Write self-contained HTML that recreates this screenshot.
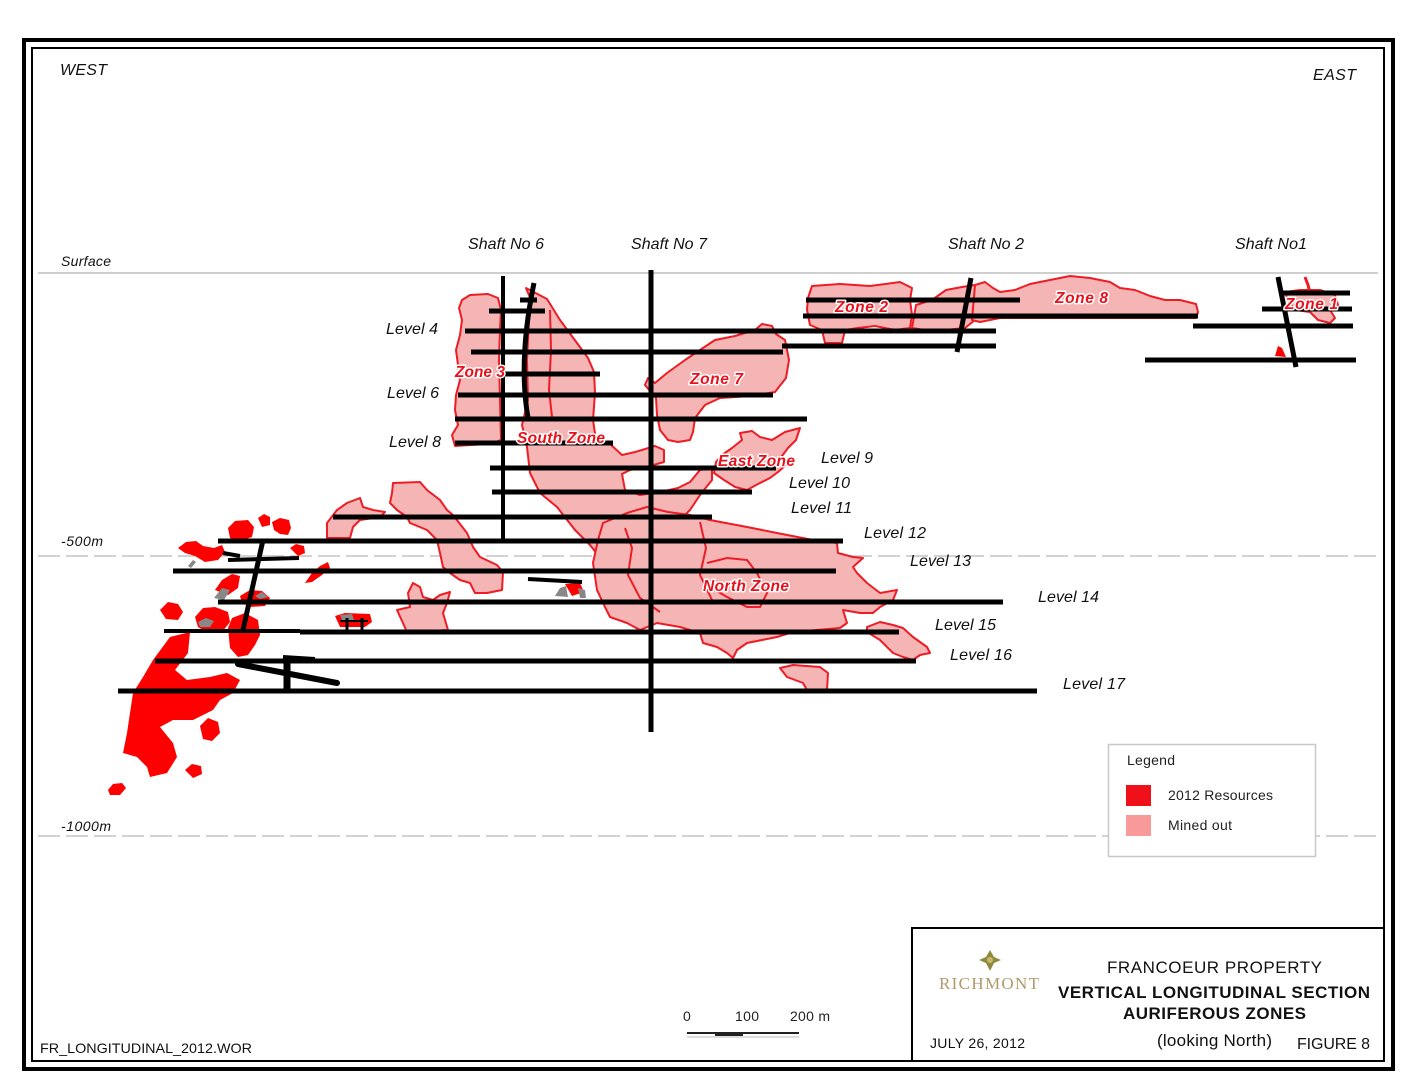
<!DOCTYPE html>
<html><head><meta charset="utf-8"><style>
html,body{margin:0;padding:0;background:#fff;}
svg{display:block;}
text{font-family:"Liberation Sans",sans-serif;}
.it{font-style:italic;font-size:16px;fill:#111;}
.zn{font-style:italic;font-weight:bold;font-size:15.5px;fill:#e8101a;stroke:#fff;stroke-width:3px;paint-order:stroke;stroke-linejoin:round;}
.pk{fill:#f5b5b5;stroke:#ee1c24;stroke-width:2;stroke-linejoin:round;}
.rd{fill:#ff0000;stroke:none;}
.bl{stroke:#000;stroke-width:5;stroke-linecap:butt;fill:none;}
.gr{fill:#888;stroke:none;}
</style></head><body>
<svg width="1408" height="1088" viewBox="0 0 1408 1088" xmlns="http://www.w3.org/2000/svg">
<rect x="0" y="0" width="1408" height="1088" fill="#fff"/>
<!-- frames -->
<rect x="24" y="40" width="1369" height="1029" fill="none" stroke="#000" stroke-width="4"/>
<rect x="32" y="48" width="1352" height="1013" fill="none" stroke="#000" stroke-width="2"/>

<!-- reference lines -->
<line x1="38" y1="273" x2="1378" y2="273" stroke="#cfcfcf" stroke-width="2"/>
<line x1="38" y1="556" x2="1378" y2="556" stroke="#c4c4c4" stroke-width="1.5" stroke-dasharray="22,6"/>
<line x1="38" y1="836" x2="1378" y2="836" stroke="#c4c4c4" stroke-width="1.5" stroke-dasharray="22,6"/>

<!-- mined out polygons -->
<polygon class="pk" points="462,300 470,295 488,294 498,298 501,310 500,330 499,360 500,400 501,440 490,444 470,445 455,446 452,435 458,425 455,410 456,395 460,380 458,365 456,350 460,335 462,320 459,308"/>
<polygon class="pk" points="526,288 547,299 560,320 577,343 588,358 594,372 595,393 593,420 596,440 610,444 622,455 635,452 655,446 664,450 664,462 650,466 630,470 622,474 625,490 640,495 660,492 678,488 690,482 700,470 712,468 712,480 700,495 690,510 680,520 660,515 640,520 620,528 605,540 598,555 590,545 575,530 557,507 540,493 530,473 527,447 522,425 528,400 527,360 529,320 531,300"/>
<polyline points="550,310 551,350 549,390 552,417" fill="none" stroke="#ee1c24" stroke-width="2"/>
<polygon class="pk" points="655,383 667,373 685,360 700,350 715,340 735,336 755,330 762,324 772,326 776,334 785,340 789,360 786,378 775,392 750,396 720,398 705,405 695,418 693,432 690,440 678,442 668,440 660,430 657,415 656,398 645,385 648,378"/>
<polygon class="pk" points="740,433 752,431 760,437 772,440 785,432 800,428 796,440 788,448 782,456 786,465 778,472 770,478 758,484 747,490 735,487 724,480 714,473 716,462 722,455 732,448 742,440"/>
<polygon class="pk" points="603,523 627,513 647,507 668,512 690,515 710,520 747,527 777,533 813,540 837,543 838,553 853,557 863,558 853,567 857,573 867,583 880,593 897,590 893,600 880,607 873,613 860,613 843,610 847,623 840,628 793,632 777,637 747,643 737,650 733,658 727,653 717,647 703,643 700,633 680,627 657,623 640,630 627,623 610,617 605,607 597,590 593,563 598,540"/>
<polyline points="625,528 632,548 628,575 640,598 660,612" fill="none" stroke="#ee1c24" stroke-width="2"/>
<polyline points="707,563 727,558 747,560 757,573 767,593 760,607 747,607 727,597 710,587" fill="none" stroke="#ee1c24" stroke-width="2"/>
<polyline points="700,522 706,548 700,575 712,600" fill="none" stroke="#ee1c24" stroke-width="2"/>
<polygon class="pk" points="867,627 880,622 893,625 903,628 913,637 927,647 930,653 920,655 913,660 903,657 893,653 880,640 867,632"/>
<polygon class="pk" points="780,668 793,665 820,667 828,673 827,690 807,690 803,683 787,677"/>
<polygon class="pk" points="808,298 812,286 840,284 870,286 900,282 912,288 910,300 912,315 910,328 895,330 875,326 858,328 845,330 842,343 825,343 822,330 810,325 807,310"/>
<polygon class="pk" points="912,328 916,305 932,300 946,290 962,287 975,285 982,293 980,305 975,320 965,328 945,330 925,330"/>
<polygon class="pk" points="975,285 985,282 993,288 1000,292 1015,290 1030,284 1050,280 1070,276 1090,278 1110,282 1120,288 1135,290 1150,296 1165,300 1180,300 1196,304 1198,312 1196,318 1100,318 1000,318 980,322 972,320"/>
<polygon class="pk" points="1285,292 1300,290 1320,290 1335,295 1338,305 1330,310 1335,318 1330,323 1318,320 1310,312 1295,310 1288,300"/>
<polyline points="1305,277 1308,285 1310,293" fill="none" stroke="#ee1c24" stroke-width="3"/>
<polygon class="rd" points="1275,356 1278,346 1282,348 1286,357"/>
<polygon class="pk" points="393,483 420,482 427,490 440,500 447,510 453,515 467,533 473,547 480,557 497,565 503,572 502,590 487,593 475,593 470,583 460,580 450,573 443,567 440,553 437,540 427,530 410,523 407,517 397,510 390,503 392,493"/>
<polygon class="pk" points="327,523 337,510 347,503 360,498 363,507 373,510 385,512 380,517 360,520 353,527 350,538 327,538"/>
<polygon class="pk" points="397,610 410,607 408,593 413,583 420,587 423,597 433,600 440,595 450,592 447,603 443,613 448,630 407,632"/>

<!-- 2012 resources -->
<polygon class="rd" points="228,528 235,521 248,520 254,527 252,537 240,541 230,538"/>
<polygon class="rd" points="258,518 264,514 270,517 270,525 262,527"/>
<polygon class="rd" points="272,522 280,518 289,520 291,528 288,535 280,534 274,530"/>
<polygon class="rd" points="290,548 296,544 304,546 305,553 298,556"/>
<polygon class="rd" points="178,548 186,542 196,541 203,546 214,548 222,545 225,552 218,560 205,562 195,556 185,553"/>
<polygon class="rd" points="305,583 312,573 320,566 328,562 330,568 322,575 312,582"/>
<polygon class="rd" points="215,590 222,580 232,574 240,576 238,588 228,595"/>
<polygon class="rd" points="240,596 250,590 262,591 270,598 265,606 250,607 242,603"/>
<polygon class="rd" points="160,610 168,602 178,604 183,612 178,620 166,619"/>
<polygon class="rd" points="195,617 203,608 215,607 228,612 230,622 222,632 208,633 198,627"/>
<polygon class="rd" points="228,628 232,618 245,613 258,620 260,635 255,645 248,655 238,657 230,648"/>
<polygon class="rd" points="153,660 170,637 190,632 188,653 175,670 187,680 210,677 227,673 240,680 233,693 220,700 213,710 193,720 173,720 160,727 173,743 177,757 167,773 150,777 147,767 137,757 123,753 127,733 130,713 133,693 143,677"/>
<polygon class="rd" points="200,726 208,718 218,722 220,733 212,741 203,739"/>
<polygon class="rd" points="185,770 192,764 201,766 202,774 193,778"/>
<polygon class="rd" points="108,790 113,784 122,783 126,788 120,795 110,795"/>
<polygon class="rd" points="335,616 345,613 370,614 372,622 365,627 340,627"/>
<polygon class="rd" points="565,584 580,583 584,592 572,596"/>
<!-- gray bits -->
<polygon class="gr" points="214,598 222,588 230,590 224,600"/>
<polygon class="gr" points="198,622 206,618 214,621 210,627 200,627"/>
<polygon class="gr" points="255,596 262,592 268,597 260,599"/>
<polygon class="gr" points="188,566 193,560 196,562 191,568"/>
<polygon class="gr" points="340,615 352,614 354,620 342,620"/>
<polygon class="gr" points="555,596 560,588 566,586 568,597"/>
<polygon class="gr" points="578,588 585,590 586,598 580,598"/>

<!-- level lines -->
<g class="bl">
<line x1="806" y1="300" x2="1020" y2="300"/>
<line x1="803" y1="316" x2="1198" y2="316"/>
<line x1="465" y1="331" x2="996" y2="331"/>
<line x1="782" y1="346" x2="996" y2="346"/>
<line x1="471" y1="352" x2="783" y2="352"/>
<line x1="489" y1="311" x2="545" y2="311"/>
<line x1="520" y1="300" x2="537" y2="300"/>
<line x1="503" y1="374" x2="600" y2="374"/>
<line x1="458" y1="395" x2="773" y2="395"/>
<line x1="455" y1="419" x2="807" y2="419"/>
<line x1="455" y1="443" x2="613" y2="443"/>
<line x1="490" y1="468" x2="776" y2="468"/>
<line x1="492" y1="492" x2="752" y2="492"/>
<line x1="333" y1="517" x2="712" y2="517"/>
<line x1="218" y1="541" x2="843" y2="541"/>
<line x1="173" y1="571" x2="836" y2="571"/>
<line x1="218" y1="602" x2="1003" y2="602"/>
<line x1="164" y1="631" x2="300" y2="631" stroke-width="4"/>
<line x1="300" y1="632" x2="899" y2="632"/>
<line x1="155" y1="661" x2="916" y2="661"/>
<line x1="118" y1="691" x2="1037" y2="691"/>
<line x1="1283" y1="293" x2="1350" y2="293"/>
<line x1="1262" y1="309" x2="1352" y2="309"/>
<line x1="1193" y1="326" x2="1353" y2="326"/>
<line x1="1145" y1="360" x2="1356" y2="360"/>
<!-- shafts -->
<line x1="651" y1="270" x2="651" y2="732"/>
<line x1="503" y1="276" x2="503" y2="540" stroke-width="4"/>
<path d="M534,283 Q518,360 528,418"/>
<line x1="971" y1="278" x2="957" y2="352"/>
<line x1="1278" y1="277" x2="1296" y2="367"/>
<line x1="263" y1="540" x2="243" y2="630"/>
<line x1="228" y1="560" x2="299" y2="558" stroke-width="4"/>
<line x1="223" y1="553" x2="240" y2="556" stroke-width="4"/>
<line x1="238" y1="664" x2="337" y2="683" stroke-width="6" stroke-linecap="round"/>
<line x1="287" y1="656" x2="287" y2="691" stroke-width="7"/>
<line x1="283" y1="657" x2="315" y2="659" stroke-width="4"/>
<line x1="528" y1="579" x2="582" y2="582" stroke-width="4"/>
<line x1="347" y1="618" x2="347" y2="630" stroke-width="3"/>
<line x1="362" y1="618" x2="362" y2="630" stroke-width="3"/>
<line x1="340" y1="621" x2="368" y2="621" stroke-width="2"/>
</g>

<!-- zone labels -->
<text class="zn" x="455" y="377" textLength="50">Zone 3</text>
<text class="zn" x="690" y="384" textLength="53">Zone 7</text>
<text class="zn" x="517" y="443" textLength="88">South Zone</text>
<text class="zn" x="718" y="466" textLength="77">East Zone</text>
<text class="zn" x="703" y="591" textLength="86">North Zone</text>
<text class="zn" x="835" y="312" textLength="53">Zone 2</text>
<text class="zn" x="1055" y="303" textLength="53">Zone 8</text>
<text class="zn" x="1285" y="309" textLength="53">Zone 1</text>

<!-- direction / axis labels -->
<text class="it" x="60" y="75" textLength="47">WEST</text>
<text class="it" x="1313" y="80" textLength="43">EAST</text>
<text class="it" x="61" y="266" style="font-size:14px" textLength="50">Surface</text>
<text class="it" x="61" y="546" style="font-size:14px" textLength="42">-500m</text>
<text class="it" x="61" y="831" style="font-size:14px" textLength="50">-1000m</text>

<text class="it" x="468" y="249" textLength="76">Shaft No 6</text>
<text class="it" x="631" y="249" textLength="76">Shaft No 7</text>
<text class="it" x="948" y="249" textLength="76">Shaft No 2</text>
<text class="it" x="1235" y="249" textLength="72">Shaft No1</text>

<text class="it" x="386" y="334" textLength="52">Level 4</text>
<text class="it" x="387" y="398" textLength="52">Level 6</text>
<text class="it" x="389" y="447" textLength="52">Level 8</text>
<text class="it" x="821" y="463" textLength="52">Level 9</text>
<text class="it" x="789" y="488" textLength="61">Level 10</text>
<text class="it" x="791" y="513" textLength="61">Level 11</text>
<text class="it" x="864" y="538" textLength="62">Level 12</text>
<text class="it" x="910" y="566" textLength="61">Level 13</text>
<text class="it" x="1038" y="602" textLength="61">Level 14</text>
<text class="it" x="935" y="630" textLength="61">Level 15</text>
<text class="it" x="950" y="660" textLength="62">Level 16</text>
<text class="it" x="1063" y="689" textLength="62">Level 17</text>

<!-- legend -->
<rect x="1108.5" y="744.5" width="207" height="112" fill="#fff" stroke="#c8c8c8" stroke-width="1.5"/>
<text x="1127" y="765" style="font-size:14px;fill:#222" textLength="48">Legend</text>
<rect x="1126" y="785" width="25" height="21" fill="#f0101a"/>
<rect x="1126" y="815" width="25" height="21" fill="#f89a9a"/>
<text x="1168" y="800" style="font-size:14px;fill:#222" textLength="105">2012 Resources</text>
<text x="1168" y="830" style="font-size:14px;fill:#222" textLength="64">Mined out</text>

<!-- scale bar -->
<text x="683" y="1021" style="font-size:14px;fill:#222">0</text>
<text x="735" y="1021" style="font-size:14px;fill:#222" textLength="24">100</text>
<text x="790" y="1021" style="font-size:14px;fill:#222" textLength="40">200 m</text>
<line x1="687" y1="1033" x2="799" y2="1033" stroke="#222" stroke-width="2"/>
<rect x="715" y="1033" width="28" height="3" fill="#222"/>
<line x1="687" y1="1037" x2="799" y2="1037" stroke="#bbb" stroke-width="1"/>

<text x="40" y="1053" style="font-size:14px;fill:#111" textLength="212" lengthAdjust="spacingAndGlyphs">FR_LONGITUDINAL_2012.WOR</text>

<!-- title block -->
<rect x="912" y="928" width="472" height="133" fill="#fff" stroke="#000" stroke-width="2"/>
<g fill="#8e8a3c">
<polygon points="990,950 994,957 1001,960 994,963 990,971 986,963 979,960 986,957"/>
</g>
<circle cx="990" cy="960" r="3" fill="#c8b868"/>
<text x="939" y="989" style="font-family:'Liberation Serif',serif;font-size:17px;fill:#b09a68" textLength="100">RICHMONT</text>
<text x="1107" y="973" style="font-size:17px;fill:#111" textLength="215">FRANCOEUR PROPERTY</text>
<text x="1058" y="998" style="font-size:17px;font-weight:bold;fill:#111" textLength="312">VERTICAL LONGITUDINAL SECTION</text>
<text x="1123" y="1019" style="font-size:17px;font-weight:bold;fill:#111" textLength="183">AURIFEROUS ZONES</text>
<text x="930" y="1048" style="font-size:14px;fill:#111" textLength="95">JULY 26, 2012</text>
<text x="1157" y="1046" style="font-size:17px;fill:#111" textLength="115">(looking North)</text>
<text x="1297" y="1049" style="font-size:16px;fill:#111" textLength="73">FIGURE 8</text>
</svg>
</body></html>
